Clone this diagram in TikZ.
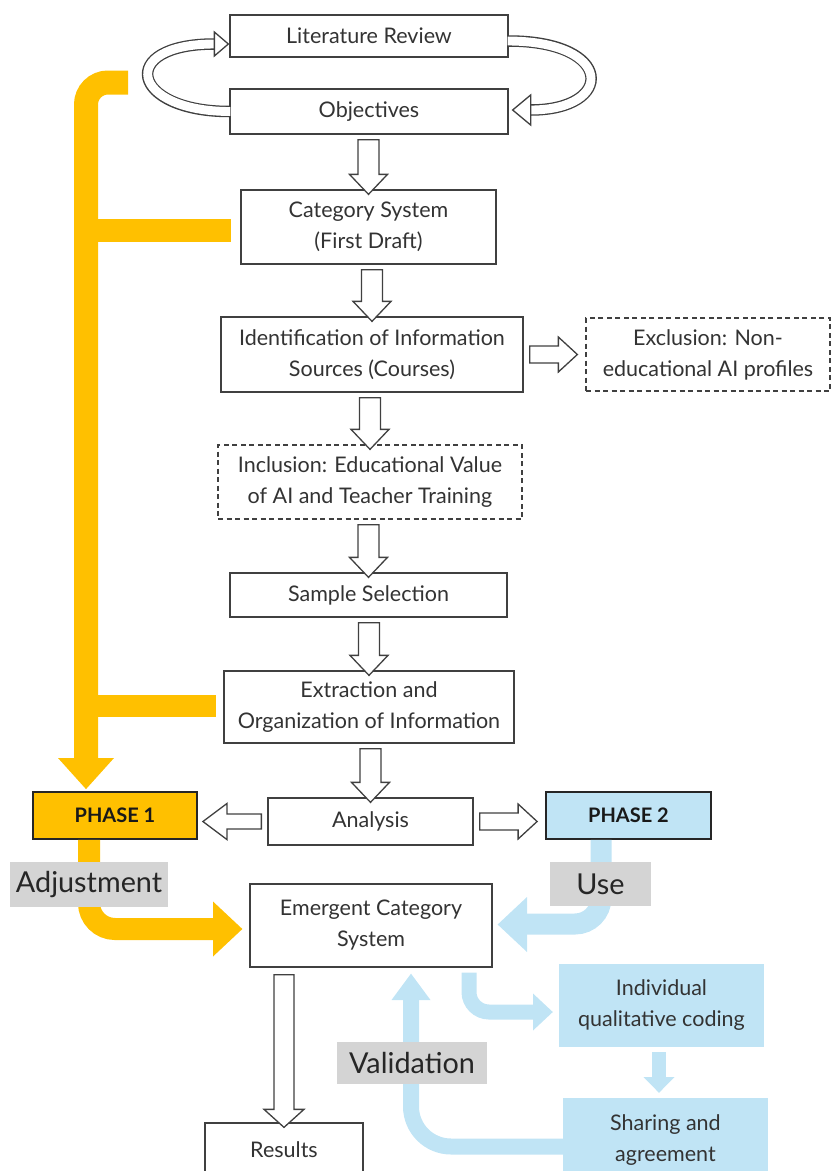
\documentclass[tikz,border=0pt]{standalone}
\usepackage{fontspec}
\setmainfont{Lato}
\usetikzlibrary{calc}
\definecolor{yel}{HTML}{FFC000}
\definecolor{lblue}{HTML}{C0E4F5}
\definecolor{lgray}{HTML}{D4D4D4}
\definecolor{edge}{HTML}{404040}
\definecolor{txt}{HTML}{333333}
% hollow block arrow pointing down, x taken from the target node
\newcommand\blkdown[2]{%
  \draw[blk] let \p1=($(#1.south)+(0,5)$), \p2=($(#2.north)+(0,5)$) in
    (\x2-10.5pt,\y1) -- (\x2+10.5pt,\y1) -- (\x2+10.5pt,\y2+20pt) -- (\x2+19pt,\y2+20pt)
    -- (\x2,\y2) -- (\x2-19pt,\y2+20pt) -- (\x2-10.5pt,\y2+20pt) -- cycle;}
% hollow block arrow pointing right
\newcommand\blkright[2]{%
  \draw[blk] let \p1=($(#1.east)+(6,0)$), \p2=($(#2.west)+(-8,0)$) in
    (\x1,\y1-8.5pt) -- (\x2-19pt,\y1-8.5pt) -- (\x2-19pt,\y1-17.5pt) -- (\x2,\y1)
    -- (\x2-19pt,\y1+17.5pt) -- (\x2-19pt,\y1+8.5pt) -- (\x1,\y1+8.5pt) -- cycle;}
% hollow block arrow pointing left
\newcommand\blkleft[2]{%
  \draw[blk] let \p1=($(#1.west)+(-6,0)$), \p2=($(#2.east)+(5,0)$) in
    (\x1,\y1-7.5pt) -- (\x2+24pt,\y1-7.5pt) -- (\x2+24pt,\y1-18pt) -- (\x2,\y1)
    -- (\x2+24pt,\y1+18pt) -- (\x2+24pt,\y1+7.5pt) -- (\x1,\y1+7.5pt) -- cycle;}
\begin{document}
\begin{tikzpicture}[x=1pt,y=-1pt,
  box/.style={draw=edge, line width=1.3pt, fill=white, text=txt, align=center,
    inner sep=0pt, font=\fontsize{21.5}{31}\selectfont},
  dbox/.style={box, dash pattern=on 5pt off 3.5pt},
  phase/.style={draw=black!85, line width=1.8pt, inner sep=0pt, text=black!90,
    font=\bfseries\fontsize{20}{24}\selectfont},
  bbox/.style={fill=lblue, inner sep=0pt, align=center, text=txt,
    font=\fontsize{21.5}{31}\selectfont},
  tag/.style={fill=lgray, inner sep=0pt, text=black!85, font=\fontsize{28.8}{30}\selectfont},
  blk/.style={draw=edge, line width=1.3pt, fill=white, line join=miter},
  ring/.style={draw=edge, line width=11.5pt},
  ringin/.style={draw=white, line width=8.9pt},
  yband/.style={draw=yel, line width=#1},
  bband/.style={draw=lblue, line width=#1},
]
\useasboundingbox (0,0) rectangle (832,1171);
\clip (0,0) rectangle (832,1171);

% ---------- main column ----------
\node[box, minimum width=278pt, minimum height=42pt] (lr) at (369,36) {Literature Review};
\node[box, minimum width=278pt, minimum height=45pt] (obj) at (369,111.5) {Objectives};
\node[box, minimum width=255pt, minimum height=74pt] (cat) at (368.5,227) {Category System\\(First Draft)};
\node[box, minimum width=302pt, minimum height=75pt] (ident) at (372,354.5) {Identification of Information\\Sources (Courses)};
\node[dbox, minimum width=244pt, minimum height=73pt] (excl) at (708,354.5) {Exclusion: Non-\\educational AI profiles};
\node[dbox, minimum width=304pt, minimum height=74pt] (incl) at (370,482) {Inclusion: Educational Value\\of AI and Teacher Training};
\node[box, minimum width=277pt, minimum height=44pt] (sample) at (368.5,595) {Sample Selection};
\node[box, minimum width=290pt, minimum height=72pt] (extr) at (369,707) {Extraction and\\Organization of Information};
\node[box, minimum width=205pt, minimum height=47pt] (anal) at (370.5,821.5) {Analysis};
\node[phase, fill=yel, minimum width=164pt, minimum height=47pt] (ph1) at (115,815.5) {PHASE 1};
\node[phase, fill=lblue, minimum width=165pt, minimum height=47pt] (ph2) at (628.5,815.5) {PHASE 2};
\node[box, minimum width=242pt, minimum height=83pt] (emer) at (371,925.5) {Emergent Category\\System};
\node[box, minimum width=158pt, minimum height=54pt] (res) at (284,1150) {Results};
\node[bbox, minimum width=205pt, minimum height=83pt] (indiv) at (661.5,1005.5) {Individual\\qualitative coding};
\node[bbox, minimum width=205pt, minimum height=84pt] (share) at (665.5,1140) {Sharing and\\agreement};

% ---------- loop between literature review and objectives ----------
\coordinate (lhb) at ($(lr.west)+(-15,8)$);
\coordinate (lht) at ($(lr.west)+(-1,8)$);
\coordinate (rhb) at ($(obj.east)+(22,-1.5)$);
\coordinate (rht) at ($(obj.east)+(4,-1.5)$);
\coordinate (rs) at ($(lr.east)+(0,5)$);
\draw[ring] (obj.west) .. controls ($(obj.west)+(-99,0)$) and ($(lhb)+(-98,0)$) .. (lhb);
\draw[ringin] ($(obj.west)+(1,0)$) .. controls ($(obj.west)+(-99,0)$) and ($(lhb)+(-98,0)$) .. (lhb);
\draw[blk] ($(lhb)+(0,-12)$) -- (lht) -- ($(lhb)+(0,12)$) -- cycle;
\draw[ring] (rs) .. controls ($(rs)+(106,0)$) and ($(rhb)+(84,0)$) .. (rhb);
\draw[ringin] ($(rs)+(-1,0)$) .. controls ($(rs)+(106,0)$) and ($(rhb)+(84,0)$) .. (rhb);
\draw[blk] ($(rhb)+(0,-15)$) -- (rht) -- ($(rhb)+(0,15)$) -- cycle;

% ---------- hollow block arrows ----------
\blkdown{obj}{cat}
\blkdown{cat}{ident}
\blkdown{ident}{incl}
\blkdown{incl}{sample}
\blkdown{sample}{extr}
\blkdown{extr}{anal}
\blkright{ident}{excl}
\blkright{anal}{ph2}
\blkleft{anal}{ph1}
\draw[blk] let \p1=($(emer.south)+(0,7)$), \p2=($(res.north)+(0,5)$) in
    (\x2-10pt,\y1) -- (\x2+10pt,\y1) -- (\x2+10pt,\y2+18pt) -- (\x2+20pt,\y2+18pt)
    -- (\x2,\y2) -- (\x2-20pt,\y2+18pt) -- (\x2-10pt,\y2+18pt) -- cycle;

% ---------- yellow feedback bracket ----------
\coordinate (ytop) at (128,82.5);
\coordinate (ybot) at (86,759);
\coordinate (ytip) at ($(ph1.north)+(-29,-2)$);
\draw[yband=24pt, rounded corners=22pt] (ytop) -- (86,82.5) -- (ybot);
\draw[yband=23pt] (86,230.5) -- ($(cat.west)+(-9,3.5)$);
\draw[yband=22pt] (86,705.5) -- ($(extr.west)+(-7,-1.5)$);
\fill[yel] (58,758) -- (114,758) -- (ytip) -- cycle;

% ---------- adjustment ----------
\coordinate (atip) at ($(emer.west)+(-7,3.5)$);
\draw[yband=22pt, rounded corners=26pt] ($(ph1.south)+(-26,0)$) -- (89,929) -- (214,929);
\fill[yel] (213,901.5) -- (atip) -- (213,956.5) -- cycle;
\node[tag, minimum width=158pt, minimum height=45pt] (adj) at (89,884.5) {Adjustment};

% ---------- use ----------
\coordinate (utip) at ($(emer.east)+(5,-1)$);
\draw[bband=21pt, rounded corners=26pt] ($(ph2.south)+(-27.5,0)$) -- (601,924) -- (526,924);
\fill[lblue] (527,897) -- (utip) -- (527,952) -- cycle;
\node[tag, minimum width=101pt, minimum height=44pt] (use) at (600.5,884) {Use};

% ---------- coding loop ----------
\coordinate (itip) at ($(indiv.west)+(-6,6.5)$);
\draw[bband=15pt, rounded corners=20pt] ($(emer.south)+(98,5)$) -- (469,1012) -- (534,1012);
\fill[lblue] (533,993.5) -- (itip) -- (533,1030.5) -- cycle;
\fill[lblue] (652,1052) rectangle (666,1078);
\fill[lblue] (643.5,1077) -- (674.5,1077) -- ($(share.north)+(-6.5,-5)$) -- cycle;

% ---------- validation ----------
\coordinate (vtip) at ($(emer.south)+(40,6)$);
\draw[bband=16pt, rounded corners=40pt] ($(share.west)+(1,6.5)$) -- (411,1146.5) -- (411,999);
\fill[lblue] (391.5,1000) -- (430.5,1000) -- (vtip) -- cycle;
\node[tag, minimum width=150pt, minimum height=42pt] (valid) at (412,1063) {Validation};
\end{tikzpicture}
\end{document}
